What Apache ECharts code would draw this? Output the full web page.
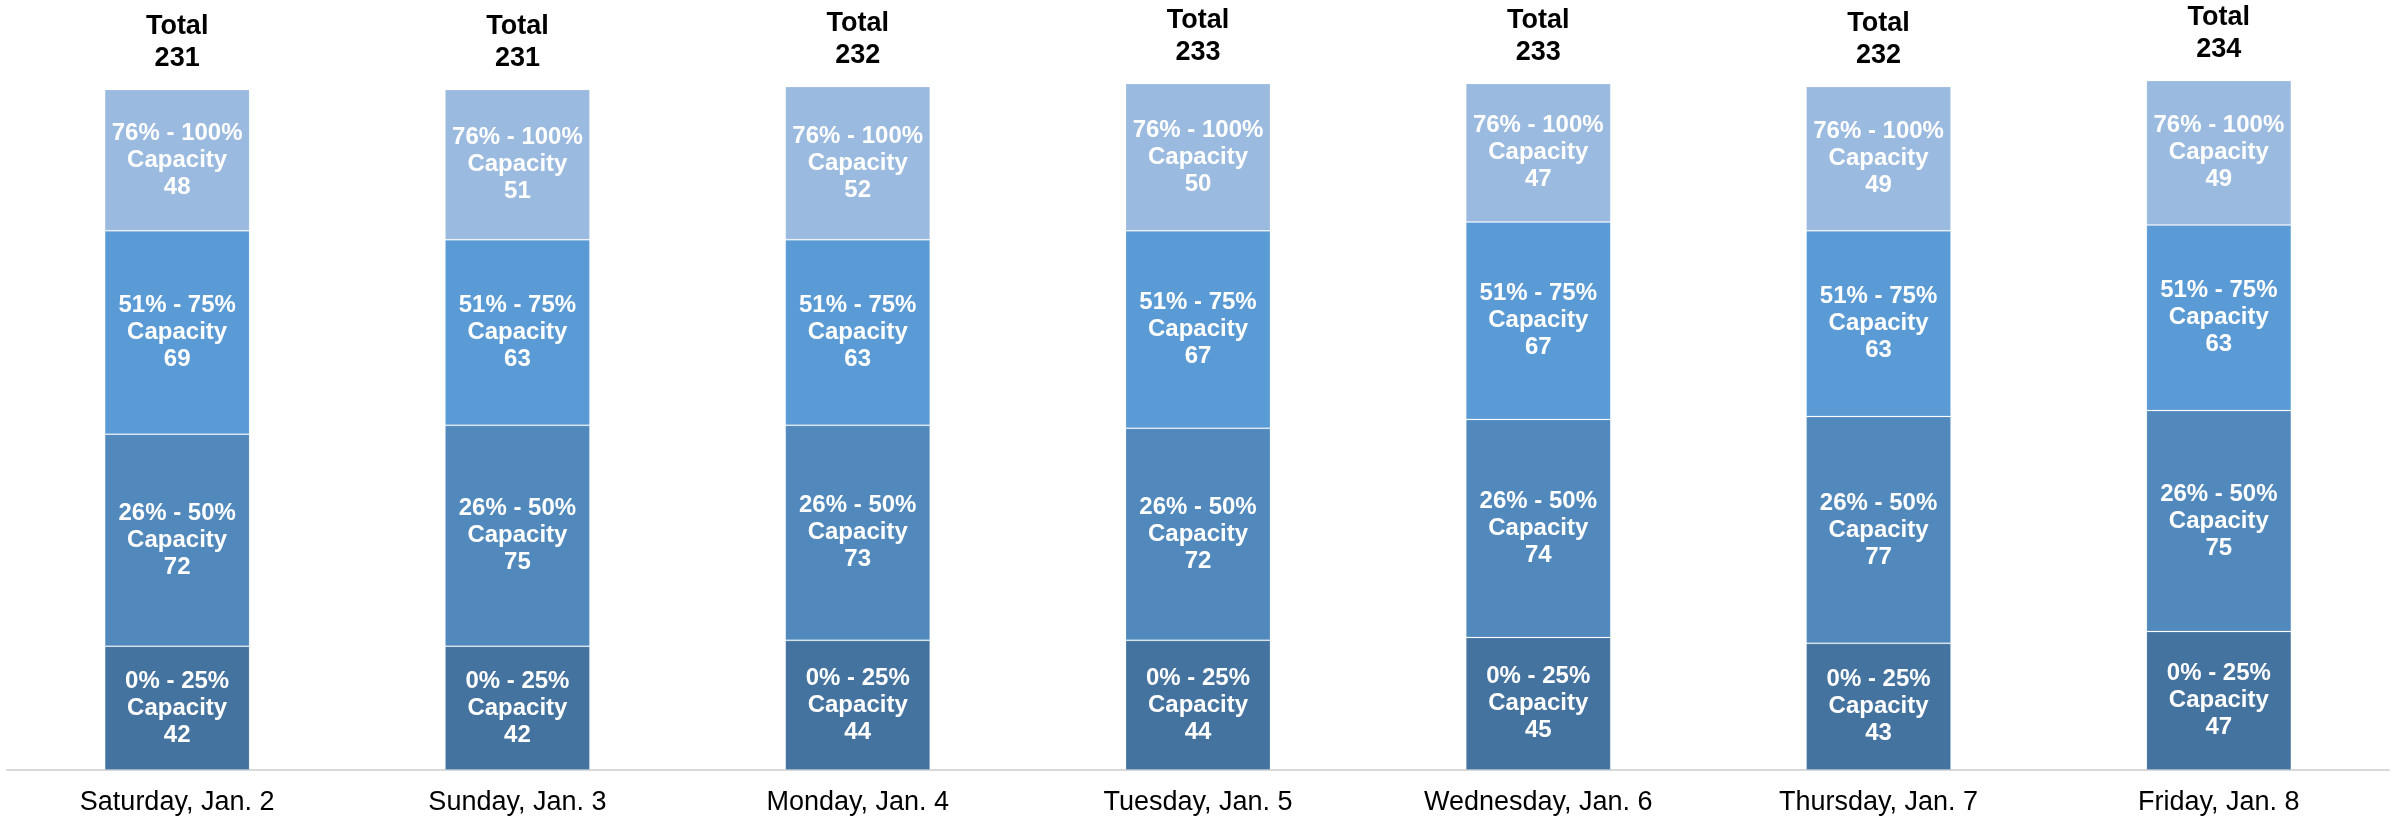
<!DOCTYPE html>
<html><head><meta charset="utf-8">
<script src="https://cdn.jsdelivr.net/npm/echarts@6/dist/echarts.min.js"></script>
<style>html,body{margin:0;padding:0;background:#fff}#c{width:2397px;height:821px}</style>
</head><body><div id="c"></div>
<script>
const categories = ['Saturday, Jan. 2','Sunday, Jan. 3','Monday, Jan. 4','Tuesday, Jan. 5','Wednesday, Jan. 6','Thursday, Jan. 7','Friday, Jan. 8'];
const cap0_25 = [42,42,44,44,45,43,47];
const cap26_50 = [72,75,73,72,74,77,75];
const cap51_75 = [69,63,63,67,67,63,63];
const cap76_100 = [48,51,52,50,47,49,49];
const totals = [231,231,232,233,233,232,234];
const seriesNames = ['0% - 25%','26% - 50%','51% - 75%','76% - 100%'];
const colors = ['#44739f','#5189bc','#5b9bd5','#9bbadf'];

const font = '"Liberation Sans", Arial, sans-serif';
const dataSets = [cap0_25, cap26_50, cap51_75, cap76_100];
const series = dataSets.map((d, i) => ({
  type: 'bar', stack: 'a', name: seriesNames[i], data: d, barWidth: '42.6%',
  itemStyle: { color: colors[i], borderColor: 'rgba(255,255,255,0.15)', borderWidth: 1 },
  label: { show: true, position: 'inside', color: '#fff', fontWeight: 'bold', fontSize: 24, lineHeight: 27,
    fontFamily: font, formatter: p => seriesNames[i] + '\nCapacity\n' + p.value }
}));
series.push({
  type: 'bar', stack: 'a', name: 'Total', data: totals.map(() => 0), barWidth: '42.6%',
  itemStyle: { color: 'transparent' },
  label: { show: true, position: 'top', distance: 15, color: '#000', fontWeight: 'bold', fontSize: 27, lineHeight: 32,
    fontFamily: font, formatter: p => 'Total\n' + totals[p.dataIndex] }
});

const chart = echarts.init(document.getElementById('c'));
chart.setOption({
  animation: false,
  grid: { left: 7, right: 8, top: 4, bottom: 51, containLabel: false },
  xAxis: { type: 'category', data: categories,
    axisLine: { lineStyle: { color: '#d9d9d9', width: 2 } }, axisTick: { show: false },
    axisLabel: { color: '#000', fontSize: 27, fontFamily: font, margin: 19 } },
  yAxis: { type: 'value', min: 0, max: 260, show: false, splitLine: { show: false } },
  series
});
</script></body></html>
